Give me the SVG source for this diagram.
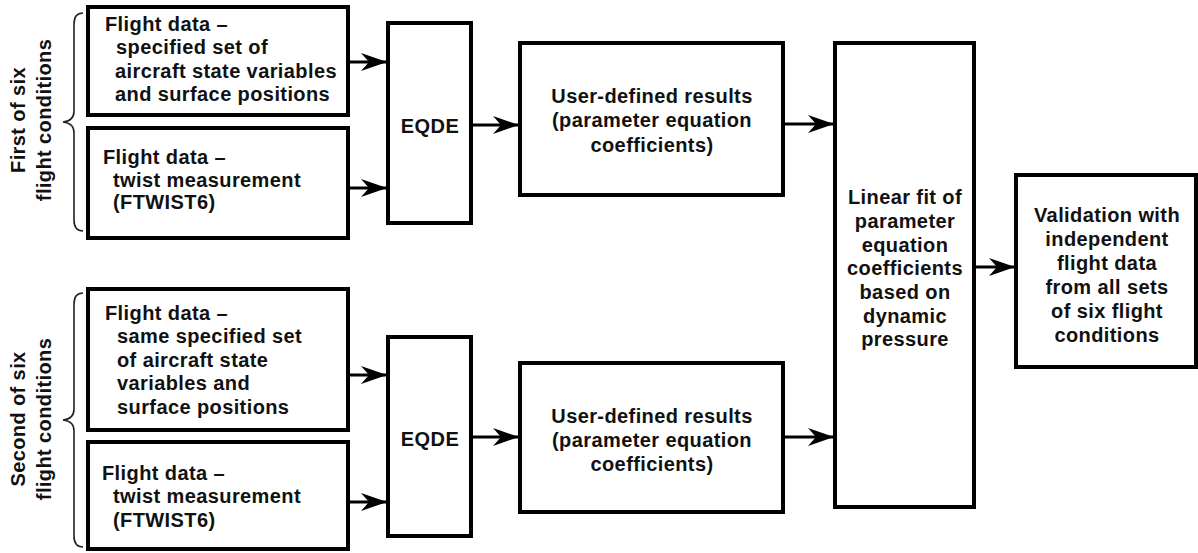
<svg xmlns="http://www.w3.org/2000/svg" width="1198" height="553" viewBox="0 0 1198 553">
<defs>
<style>
.box{fill:#fff;stroke:#000;stroke-width:4}
.t{font-family:"Liberation Sans",Arial,sans-serif;font-weight:bold;font-size:20px;fill:#111;letter-spacing:0.4px}
.c{text-anchor:middle}
.ln{stroke:#000;stroke-width:3;fill:none}
.br{stroke:#222;stroke-width:1.6;fill:none}
</style>
<marker id="ah" markerUnits="userSpaceOnUse" markerWidth="30" markerHeight="22" viewBox="-28 -11 30 22" refX="0" refY="0" orient="auto">
<path d="M0,0 L-26,-9 L-18,0 L-26,9 Z" fill="#000"/>
</marker>
</defs>
<rect width="1198" height="553" fill="#fff"/>

<g id="label-first">
<text class="t c" transform="translate(25,120) rotate(-90)">First of six</text>
<text class="t c" transform="translate(51,120) rotate(-90)">flight conditions</text>
<path class="br" d="M83,13 Q74,13 74,24 L74,111 Q74,121 63,122 Q74,123 74,133 L74,220 Q74,231 83,231"/>
</g>
<g id="label-second">
<text class="t c" transform="translate(25,419) rotate(-90)">Second of six</text>
<text class="t c" transform="translate(51,419) rotate(-90)">flight conditions</text>
<path class="br" d="M83,293 Q74,293 74,304 L74,409 Q74,419 63,420 Q74,421 74,431 L74,536 Q74,547 83,547"/>
</g>

<g id="fd1">
<rect class="box" x="88" y="7" width="260" height="108"/>
<text class="t" x="105" y="31">Flight data –</text>
<text class="t" x="116" y="54">specified set of</text>
<text class="t" x="115" y="78">aircraft state variables</text>
<text class="t" x="115" y="101">and surface positions</text>
</g>
<g id="tw1">
<rect class="box" x="88" y="128" width="260" height="110"/>
<text class="t" x="103" y="164">Flight data –</text>
<text class="t" x="113" y="187">twist measurement</text>
<text class="t" x="113" y="209">(FTWIST6)</text>
</g>
<g id="fd2">
<rect class="box" x="88" y="289" width="260" height="141"/>
<text class="t" x="105" y="320">Flight data –</text>
<text class="t" x="117" y="343">same specified set</text>
<text class="t" x="117" y="367">of aircraft state</text>
<text class="t" x="117" y="390">variables and</text>
<text class="t" x="117" y="414">surface positions</text>
</g>
<g id="tw2">
<rect class="box" x="88" y="442" width="260" height="107"/>
<text class="t" x="102" y="480">Flight data –</text>
<text class="t" x="113" y="503">twist measurement</text>
<text class="t" x="113" y="527">(FTWIST6)</text>
</g>

<g id="eqde1">
<rect class="box" x="388" y="23" width="83" height="200"/>
<text class="t c" x="430" y="133">EQDE</text>
</g>
<g id="eqde2">
<rect class="box" x="388" y="337" width="83" height="199"/>
<text class="t c" x="430" y="446">EQDE</text>
</g>

<g id="udr1">
<rect class="box" x="520" y="43" width="263" height="152"/>
<text class="t c" x="652" y="103">User-defined results</text>
<text class="t c" x="652" y="127">(parameter equation</text>
<text class="t c" x="652" y="152">coefficients)</text>
</g>
<g id="udr2">
<rect class="box" x="520" y="363" width="263" height="149"/>
<text class="t c" x="652" y="423">User-defined results</text>
<text class="t c" x="652" y="447">(parameter equation</text>
<text class="t c" x="652" y="471">coefficients)</text>
</g>

<g id="linfit">
<rect class="box" x="835" y="43" width="139" height="464"/>
<text class="t c" x="905" y="204">Linear fit of</text>
<text class="t c" x="905" y="228">parameter</text>
<text class="t c" x="905" y="252">equation</text>
<text class="t c" x="905" y="275">coefficients</text>
<text class="t c" x="905" y="299">based on</text>
<text class="t c" x="905" y="323">dynamic</text>
<text class="t c" x="905" y="346">pressure</text>
</g>

<g id="valid">
<rect class="box" x="1016" y="175" width="180" height="192"/>
<text class="t c" x="1107" y="222">Validation with</text>
<text class="t c" x="1107" y="246">independent</text>
<text class="t c" x="1107" y="270">flight data</text>
<text class="t c" x="1107" y="294">from all sets</text>
<text class="t c" x="1107" y="318">of six flight</text>
<text class="t c" x="1107" y="342">conditions</text>
</g>

<g id="connectors">
<line class="ln" x1="350" y1="62" x2="387" y2="62" marker-end="url(#ah)"/>
<line class="ln" x1="350" y1="188" x2="387" y2="188" marker-end="url(#ah)"/>
<line class="ln" x1="350" y1="375" x2="387" y2="375" marker-end="url(#ah)"/>
<line class="ln" x1="350" y1="502" x2="387" y2="502" marker-end="url(#ah)"/>
<line class="ln" x1="473" y1="125" x2="519" y2="125" marker-end="url(#ah)"/>
<line class="ln" x1="473" y1="437" x2="519" y2="437" marker-end="url(#ah)"/>
<line class="ln" x1="785" y1="124" x2="834" y2="124" marker-end="url(#ah)"/>
<line class="ln" x1="785" y1="437" x2="834" y2="437" marker-end="url(#ah)"/>
<line class="ln" x1="976" y1="267" x2="1015" y2="267" marker-end="url(#ah)"/>
</g>
</svg>
